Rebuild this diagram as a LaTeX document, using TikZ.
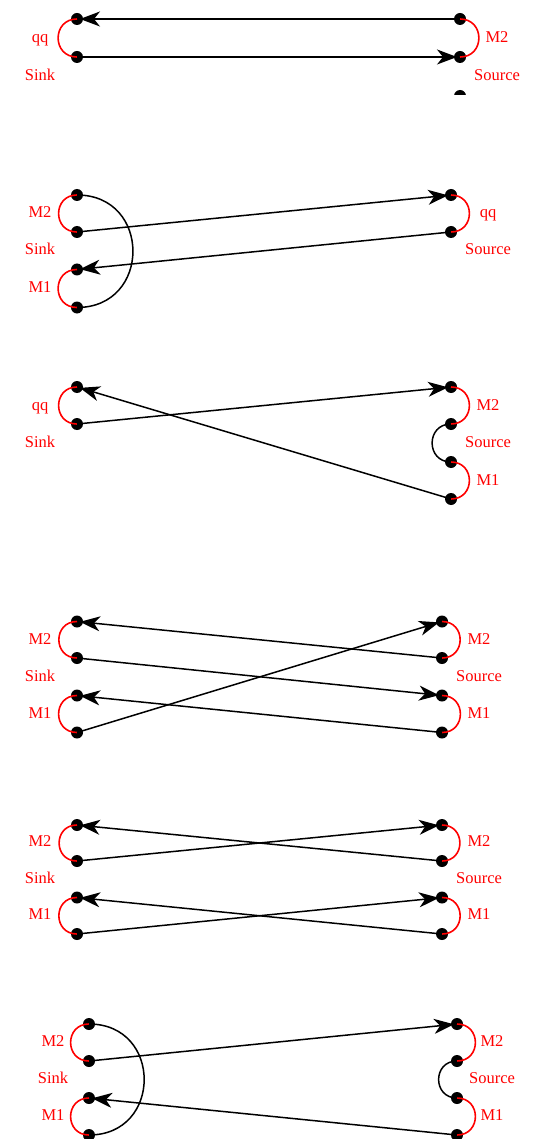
\documentclass[tikz,border=0pt]{standalone}
\usepackage{fontspec}
\setmainfont{Liberation Serif}
\usetikzlibrary{arrows.meta}
\tikzset{
  dot/.style={circle, fill=black, inner sep=0pt, minimum size=12pt},
  lab/.style={text=red, anchor=base, inner sep=0pt, font=\fontsize{16.5}{18}\selectfont},
  pairarc/.style={draw=red, line width=1.6pt},
  link/.style={draw=black, line width=1.5pt},
  arr/.style={link, -{Stealth[length=20pt,width=15pt,inset=6pt]}, shorten >=3pt},
}
\begin{document}
\begin{tikzpicture}[x=1pt,y=-1pt]
\useasboundingbox (0,0) rectangle (534,1139);

% ---------- Panel 1 ----------
\node[dot] (a1) at (77,19) {};
\node[dot] (a2) at (77,57) {};
\node[dot] (b1) at (460,19) {};
\node[dot] (b2) at (460,57) {};
\begin{scope}
  \clip (400,0) rectangle (534,95);
  \node[dot] (b3) at (460,96) {};
\end{scope}
\draw[pairarc] (a1.center) to[out=180,in=180,looseness=1.7] (a2.center);
\draw[pairarc] (b1.center) to[out=0,in=0,looseness=1.7] (b2.center);
\draw[arr] (b1.center) -- (a1.center);
\draw[arr] (a2.center) -- (b2.center);
\node[lab] (ta1) at (40,42.5) {qq};
\node[lab] (ta2) at (40,80.5) {Sink};
\node[lab] (tb1) at (497,42.5) {M2};
\node[lab] (tb2) at (497,80.5) {Source};

% ---------- Panel 2 ----------
\node[dot] (c1) at (77,195) {};
\node[dot] (c2) at (77,232) {};
\node[dot] (c3) at (77,269.5) {};
\node[dot] (c4) at (77,307.5) {};
\node[dot] (d1) at (451,195) {};
\node[dot] (d2) at (451,232) {};
\draw[pairarc] (c1.center) to[out=180,in=180,looseness=1.7] (c2.center);
\draw[pairarc] (c3.center) to[out=180,in=180,looseness=1.7] (c4.center);
\draw[pairarc] (d1.center) to[out=0,in=0,looseness=1.7] (d2.center);
\draw[link] (c1.center) to[out=0,in=0,looseness=1.7] (c4.center);
\draw[arr] (c2.center) -- (d1.center);
\draw[arr] (d2.center) -- (c3.center);
\node[lab] (tc1) at (40,218) {M2};
\node[lab] (tc2) at (40,255) {Sink};
\node[lab] (tc3) at (40,292.5) {M1};
\node[lab] (td1) at (488,218) {qq};
\node[lab] (td2) at (488,255) {Source};

% ---------- Panel 3 ----------
\node[dot] (e1) at (77,387) {};
\node[dot] (e2) at (77,424) {};
\node[dot] (f1) at (451,387) {};
\node[dot] (f2) at (451,424) {};
\node[dot] (f3) at (451,462) {};
\node[dot] (f4) at (451,499) {};
\draw[pairarc] (e1.center) to[out=180,in=180,looseness=1.7] (e2.center);
\draw[pairarc] (f1.center) to[out=0,in=0,looseness=1.7] (f2.center);
\draw[pairarc] (f3.center) to[out=0,in=0,looseness=1.7] (f4.center);
\draw[link] (f2.center) to[out=180,in=180,looseness=1.7] (f3.center);
\draw[arr] (e2.center) -- (f1.center);
\draw[arr] (f4.center) -- (e1.center);
\node[lab] (te1) at (40,410) {qq};
\node[lab] (te2) at (40,447.5) {Sink};
\node[lab] (tf1) at (488,410) {M2};
\node[lab] (tf2) at (488,447.5) {Source};
\node[lab] (tf3) at (488,485) {M1};

% ---------- Panel 4 ----------
\node[dot] (g1) at (77,621.5) {};
\node[dot] (g2) at (77,658) {};
\node[dot] (g3) at (77,695.5) {};
\node[dot] (g4) at (77,732.5) {};
\node[dot] (h1) at (442,621.5) {};
\node[dot] (h2) at (442,658) {};
\node[dot] (h3) at (442,695.5) {};
\node[dot] (h4) at (442,732.5) {};
\draw[pairarc] (g1.center) to[out=180,in=180,looseness=1.7] (g2.center);
\draw[pairarc] (g3.center) to[out=180,in=180,looseness=1.7] (g4.center);
\draw[pairarc] (h1.center) to[out=0,in=0,looseness=1.7] (h2.center);
\draw[pairarc] (h3.center) to[out=0,in=0,looseness=1.7] (h4.center);
\draw[arr] (h2.center) -- (g1.center);
\draw[arr] (g2.center) -- (h3.center);
\draw[arr] (h4.center) -- (g3.center);
\draw[arr] (g4.center) -- (h1.center);
\node[lab] (tg1) at (40,644) {M2};
\node[lab] (tg2) at (40,681) {Sink};
\node[lab] (tg3) at (40,718) {M1};
\node[lab] (th1) at (479,644) {M2};
\node[lab] (th2) at (479,681) {Source};
\node[lab] (th3) at (479,718) {M1};

% ---------- Panel 5 ----------
\node[dot] (i1) at (77,825) {};
\node[dot] (i2) at (77,861) {};
\node[dot] (i3) at (77,897.5) {};
\node[dot] (i4) at (77,934) {};
\node[dot] (j1) at (442,825) {};
\node[dot] (j2) at (442,861) {};
\node[dot] (j3) at (442,897.5) {};
\node[dot] (j4) at (442,934) {};
\draw[pairarc] (i1.center) to[out=180,in=180,looseness=1.7] (i2.center);
\draw[pairarc] (i3.center) to[out=180,in=180,looseness=1.7] (i4.center);
\draw[pairarc] (j1.center) to[out=0,in=0,looseness=1.7] (j2.center);
\draw[pairarc] (j3.center) to[out=0,in=0,looseness=1.7] (j4.center);
\draw[arr] (j2.center) -- (i1.center);
\draw[arr] (i2.center) -- (j1.center);
\draw[arr] (j4.center) -- (i3.center);
\draw[arr] (i4.center) -- (j3.center);
\node[lab] (ti1) at (40,846.5) {M2};
\node[lab] (ti2) at (40,883) {Sink};
\node[lab] (ti3) at (40,919.5) {M1};
\node[lab] (tj1) at (479,846.5) {M2};
\node[lab] (tj2) at (479,883) {Source};
\node[lab] (tj3) at (479,919.5) {M1};

% ---------- Panel 6 ----------
\node[dot] (k1) at (89,1024) {};
\node[dot] (k2) at (89,1061) {};
\node[dot] (k3) at (89,1098) {};
\node[dot] (k4) at (89,1135) {};
\node[dot] (l1) at (457,1024) {};
\node[dot] (l2) at (457,1061) {};
\node[dot] (l3) at (457,1098) {};
\node[dot] (l4) at (457,1135) {};
\draw[pairarc] (k1.center) to[out=180,in=180,looseness=1.7] (k2.center);
\draw[pairarc] (k3.center) to[out=180,in=180,looseness=1.7] (k4.center);
\draw[pairarc] (l1.center) to[out=0,in=0,looseness=1.7] (l2.center);
\draw[pairarc] (l3.center) to[out=0,in=0,looseness=1.7] (l4.center);
\draw[link] (k1.center) to[out=0,in=0,looseness=1.7] (k4.center);
\draw[link] (l2.center) to[out=180,in=180,looseness=1.7] (l3.center);
\draw[arr] (k2.center) -- (l1.center);
\draw[arr] (l4.center) -- (k3.center);
\node[lab] (tk1) at (53,1046.5) {M2};
\node[lab] (tk2) at (53,1083) {Sink};
\node[lab] (tk3) at (53,1120) {M1};
\node[lab] (tl1) at (492,1046.5) {M2};
\node[lab] (tl2) at (492,1083) {Source};
\node[lab] (tl3) at (492,1120) {M1};
\end{tikzpicture}
\end{document}
